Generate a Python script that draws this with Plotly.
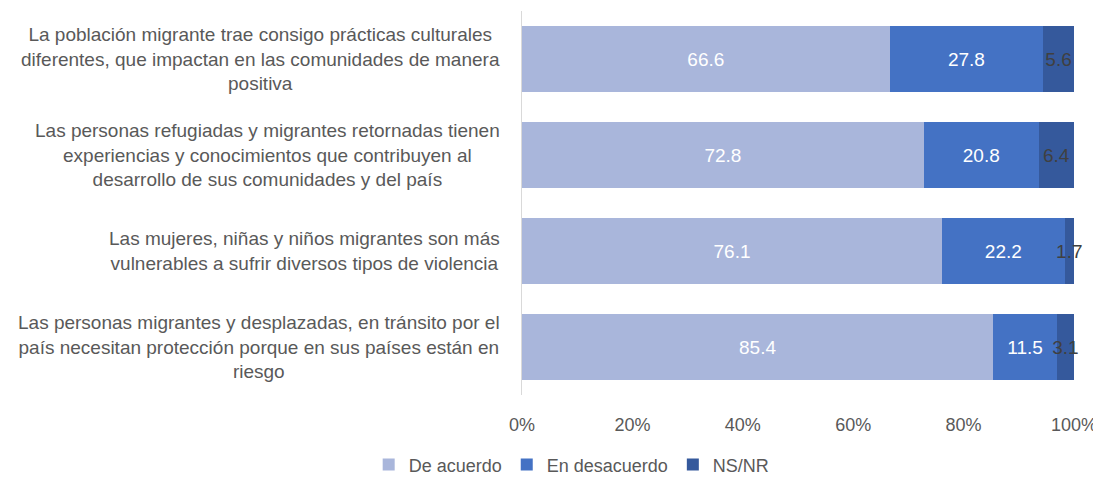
import plotly.graph_objects as go

categories = [
    "La población migrante trae consigo prácticas culturales<br>diferentes, que impactan en las comunidades de manera<br>positiva",
    "Las personas refugiadas y migrantes retornadas tienen<br>experiencias y conocimientos que contribuyen al<br>desarrollo de sus comunidades y del país",
    "Las mujeres, niñas y niños migrantes son más<br>vulnerables a sufrir diversos tipos de violencia",
    "Las personas migrantes y desplazadas, en tránsito por el<br>país necesitan protección porque en sus países están en<br>riesgo",
]
de_acuerdo = [66.6, 72.8, 76.1, 85.4]
en_desacuerdo = [27.8, 20.8, 22.2, 11.5]
ns_nr = [5.6, 6.4, 1.7, 3.1]
tick_vals = [0, 20, 40, 60, 80, 100]
tick_text = ["0%", "20%", "40%", "60%", "80%", "100%"]

series = [
    ("De acuerdo", de_acuerdo, "#A9B6DB", "white"),
    ("En desacuerdo", en_desacuerdo, "#4472C4", "white"),
    ("NS/NR", ns_nr, "#35599C", "#404040"),
]

FONT = "Liberation Sans"
GRAY = "#595959"
fig = go.Figure()
ids = list(range(len(categories)))
for name, vals, color, tcolor in series:
    fig.add_trace(go.Bar(
        name=name, y=ids, x=vals, orientation="h",
        marker=dict(color=color, line=dict(width=0)),
        text=[f"{v:.1f}" for v in vals], textposition="inside",
        insidetextanchor="middle", constraintext="none", textangle=0,
        textfont=dict(color=tcolor, size=19, family=FONT),
        cliponaxis=False,
    ))

for i, c in enumerate(categories):
    fig.add_annotation(
        x=0, xref="paper", y=i, yref="y", text=c, showarrow=False,
        xanchor="right", align="center", xshift=-20,
        font=dict(size=19, color=GRAY, family=FONT),
    )

# body has an 8px margin in the page; compensate so the figure fills 1101x479
fig.update_layout(
    template="none",
    barmode="stack", bargap=0.32,
    width=1093, height=471,
    margin=dict(l=514, r=27, t=3, b=84, autoexpand=False),
    plot_bgcolor="white", paper_bgcolor="white",
    font=dict(family=FONT, color=GRAY, size=18),
    xaxis=dict(range=[0, 100], tickvals=tick_vals, ticktext=tick_text,
               showgrid=False, zeroline=False, showline=False,
               ticks="outside", ticklen=13, tickcolor="rgba(0,0,0,0)",
               tickfont=dict(size=18, color=GRAY), automargin=False),
    yaxis=dict(range=[3.5, -0.5], showticklabels=False, showgrid=False,
               zeroline=False, showline=True, linecolor="#D9D9D9", linewidth=1,
               ticks="", automargin=False),
    legend=dict(orientation="h", x=0.09, xanchor="center",
                yref="container", y=0.03, yanchor="middle",
                font=dict(size=18, color=GRAY), traceorder="normal"),
    showlegend=True,
)

fig.write_html("out.html")
